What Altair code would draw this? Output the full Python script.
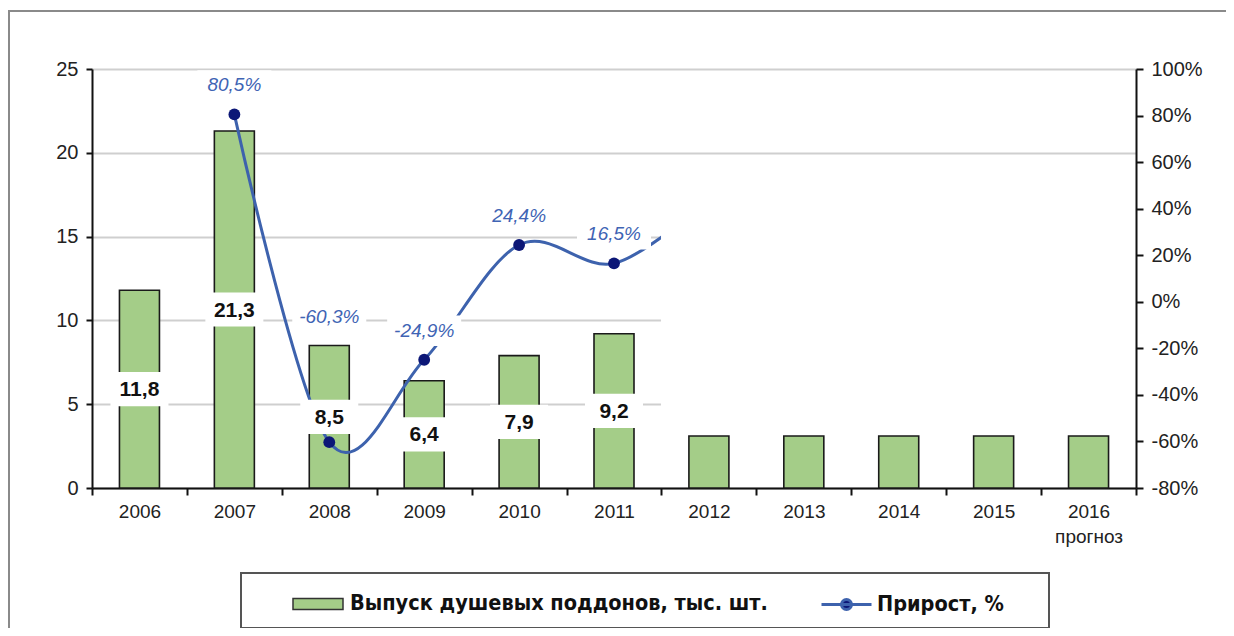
import altair as alt
import pandas as pd

# ---- data ----
years = ["2006", "2007", "2008", "2009", "2010", "2011", "2012", "2013", "2014", "2015", "2016"]
output = [11.8, 21.3, 8.5, 6.4, 7.9, 9.2, 3.1, 3.1, 3.1, 3.1, 3.1]
labelled_years = ["2006", "2007", "2008", "2009", "2010", "2011"]

growth_years = ["2007", "2008", "2009", "2010", "2011", "2012"]
growth = [80.5, -60.3, -24.9, 24.4, 16.5, 44.0]   # 2012 value is hidden in the picture
growth_labelled = ["2007", "2008", "2009", "2010", "2011"]

masked_years = ["2012", "2013", "2014", "2015", "2016"]  # area blanked in the original

bar_name = "Выпуск душевых поддонов, тыс. шт."
line_name = "Прирост, %"

FONT = "Liberation Sans"
NARROW = "'Liberation Sans Narrow', 'DejaVu Sans Condensed', 'Liberation Sans', sans-serif"
GREEN = "#a4cd88"
LINE = "#3d62ad"
NAVY = "#0c1777"
PCT = "#4064b4"

bars_df = pd.DataFrame({"year": years, "v": output, "series": bar_name})
barlab_df = bars_df[bars_df["year"].isin(labelled_years)]
line_df = pd.DataFrame({"year": growth_years, "g": growth, "series": line_name})
pts_df = line_df[line_df["year"].isin(growth_labelled)]
mask_df = pd.DataFrame({"year": masked_years})
one = pd.DataFrame({"k": [0]})

x_axis = alt.Axis(
    title=None, tickBand="extent", labelAngle=0, labelFont=FONT, labelFontSize=19,
    labelColor="#222222", domainColor="#111111", domainWidth=2, tickColor="#111111",
    tickWidth=2, tickSize=7, labelPadding=7, labelLineHeight=25, grid=False,
    labelExpr="datum.label == '2016' ? ['2016', 'прогноз'] : datum.label",
)


def X():
    return alt.X("year:N", sort=years,
                 scale=alt.Scale(domain=years, paddingInner=0, paddingOuter=0),
                 axis=x_axis)


LEFT = alt.Scale(domain=[0, 25], nice=False, zero=False)
RIGHT = alt.Scale(domain=[-80, 100], nice=False, zero=False)

left_axis = alt.Axis(
    title=None, values=[0, 5, 10, 15, 20, 25], grid=True, gridColor="#cfcfcf", gridWidth=2,
    labelFont=FONT, labelFontSize=20, labelColor="#222222", domainColor="#111111",
    domainWidth=2, tickColor="#111111", tickWidth=2, tickSize=6, labelPadding=8,
)
right_axis = alt.Axis(
    title=None, orient="right", values=list(range(-80, 101, 20)), grid=False,
    labelFont=FONT, labelFontSize=20, labelColor="#222222", domainColor="#111111",
    domainWidth=2, tickColor="#111111", tickWidth=2, tickSize=7, labelPadding=8,
    labelExpr="datum.value + '%'", zindex=1,
)

frame_top = alt.Chart(one).mark_rule(stroke="#8a8a8a", strokeWidth=2).encode(
    x=alt.value(-83), x2=alt.value(1300), y=alt.value(-58)
)
frame_left = alt.Chart(one).mark_rule(stroke="#8a8a8a", strokeWidth=2).encode(
    x=alt.value(-83), y=alt.value(-59), y2=alt.value(700)
)

bars = alt.Chart(bars_df).mark_bar(width=40, stroke="#1a1a1a", strokeWidth=1.6).encode(
    x=X(),
    y=alt.Y("v:Q", scale=LEFT, axis=left_axis),
    color=alt.Color("series:N", scale=alt.Scale(range=[GREEN]),
                    legend=alt.Legend(
                        title=None, orient="none", legendX=200, legendY=509, padding=0,
                        symbolType="M-1,-0.22H1V0.22H-1Z", symbolSize=2500,
                        symbolStrokeColor="#333333", symbolStrokeWidth=1.5,
                        labelFont=NARROW, labelFontSize=21.5, labelFontWeight="bold",
                        labelColor="#111111", labelOffset=6, labelLimit=0)),
)

line = alt.Chart(line_df).mark_line(interpolate="cardinal", strokeWidth=3).encode(
    x=X(),
    y=alt.Y("g:Q", scale=RIGHT, axis=right_axis),
    stroke=alt.Stroke("series:N", scale=alt.Scale(range=[LINE]),
                      legend=alt.Legend(
                          title=None, orient="none", legendX=728, legendY=509, padding=0,
                          symbolType="M-1,0H1M-0.2,0A0.2,0.2,0,1,1,0.2,0A0.2,0.2,0,1,1,-0.2,0Z",
                          symbolSize=2500, symbolStrokeWidth=3, symbolFillColor=NAVY,
                          labelFont=NARROW, labelFontSize=21.5, labelFontWeight="bold",
                          labelColor="#111111", labelOffset=4, labelLimit=0)),
)

mask = alt.Chart(mask_df).mark_rect(fill="white", stroke="white", strokeWidth=1).encode(
    x=X(),
    y=alt.datum(-52, scale=RIGHT, axis=None),
    y2=alt.datum(56),
)

points = alt.Chart(pts_df).mark_circle(size=140, color=NAVY, opacity=1).encode(
    x=X(), y=alt.Y("g:Q", scale=RIGHT, axis=None)
)

BOX_BAR = "M-1,-0.59H1V0.59H-1Z"
barbox = alt.Chart(barlab_df).transform_calculate(mid="datum.v / 2").mark_point(
    shape=BOX_BAR, size=3364, filled=True, fill="white", stroke=None, opacity=1
).encode(x=X(), y=alt.Y("mid:Q", scale=LEFT, axis=None))

bartext = alt.Chart(barlab_df).transform_calculate(
    mid="datum.v / 2", txt="replace(format(datum.v, '.1f'), '.', ',')"
).mark_text(font=FONT, fontSize=21, fontWeight="bold", color="#111111", baseline="middle", dy=1).encode(
    x=X(), y=alt.Y("mid:Q", scale=LEFT, axis=None), text="txt:N"
)

BOX_PCT = "M-1,-0.41H1V0.41H-1Z"
pct_calc = "(datum.g < 0 ? '-' : '') + replace(format(abs(datum.g), '.1f'), '.', ',') + '%'"


def pct_layers(df, off):
    box = alt.Chart(df).mark_point(
        shape=BOX_PCT, size=5476, filled=True, fill="white", stroke=None, opacity=1, yOffset=off
    ).encode(x=X(), y=alt.Y("g:Q", scale=RIGHT, axis=None))
    txt = alt.Chart(df).transform_calculate(txt=pct_calc).mark_text(
        font=FONT, fontSize=19, fontStyle="italic", color=PCT, baseline="middle", yOffset=off
    ).encode(x=X(), y=alt.Y("g:Q", scale=RIGHT, axis=None), text="txt:N")
    return box, txt


normal_df = pts_df[pts_df["year"] != "2008"]
moved_df = pts_df[pts_df["year"] == "2008"]
pbox1, ptxt1 = pct_layers(normal_df, -29)
pbox2, ptxt2 = pct_layers(moved_df, -125)

legend_box = alt.Chart(one).mark_rect(fill=None, stroke="#555555", strokeWidth=2).encode(
    x=alt.value(149), x2=alt.value(957), y=alt.value(504), y2=alt.value(559)
)

chart = alt.layer(
    frame_top, frame_left, bars, line, mask, points, barbox, bartext,
    pbox1, ptxt1, pbox2, ptxt2, legend_box
).resolve_scale(y="independent").properties(
    width=1044, height=419,
    padding={"left": 84, "top": 61, "right": 90, "bottom": 140},
    autosize=alt.AutoSizeParams(type="none"),
    background="white",
).configure_view(stroke=None)

chart.save("out.html", embed_options={"renderer": "svg", "actions": False})
